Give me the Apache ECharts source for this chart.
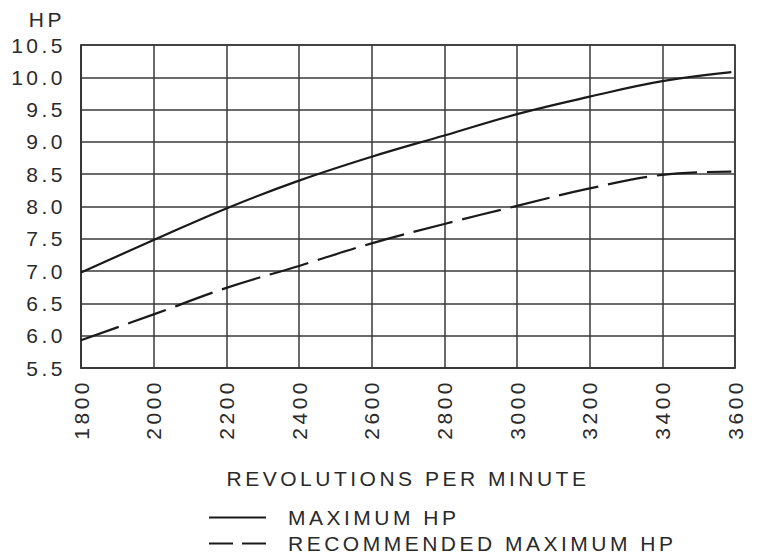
<!DOCTYPE html>
<html>
<head>
<meta charset="utf-8">
<script src="https://cdn.jsdelivr.net/npm/echarts@6/dist/echarts.min.js"></script>
<style>
html,body{margin:0;padding:0;background:#fff;}
#chart{width:766px;height:557px;}
#chart text{letter-spacing:3.5px;}
</style>
</head>
<body>
<div id="chart"></div>
<script>
const rpm = [1800, 2000, 2200, 2400, 2600, 2800, 3000, 3200, 3400, 3590];
const maxHP = [6.98, 7.48, 7.97, 8.40, 8.77, 9.10, 9.43, 9.70, 9.94, 10.08];
const recHP = [5.93, 6.33, 6.74, 7.08, 7.43, 7.73, 8.01, 8.28, 8.49, 8.54];
const seriesNames = ['MAXIMUM HP', 'RECOMMENDED MAXIMUM HP'];
const xTitle = 'REVOLUTIONS PER MINUTE';
const yTitle = 'HP';

const FONT = 'Liberation Sans';
const TXT = '#2a2a2a';
const LINE = '#1a1a1a';
const chart = echarts.init(document.getElementById('chart'), null, {renderer: 'svg'});
chart.setOption({
  animation: false,
  backgroundColor: '#fff',
  grid: {left: 81, right: 31, top: 45, bottom: 189, show: true, borderColor: '#333', borderWidth: 1.5, backgroundColor: 'transparent'},
  xAxis: {
    type: 'value', min: 1800, max: 3600, interval: 200,
    name: xTitle, nameLocation: 'middle', nameGap: 100,
    nameTextStyle: {fontFamily: FONT, fontSize: 21, color: TXT},
    axisLine: {show: true, lineStyle: {color: '#333', width: 1.5}},
    axisTick: {show: false},
    splitLine: {show: true, lineStyle: {color: '#3a3a3a', width: 1.5}},
    axisLabel: {rotate: 90, margin: 11, fontFamily: FONT, fontSize: 21, color: TXT, formatter: v => String(v)}
  },
  yAxis: {
    type: 'value', min: 5.5, max: 10.5, interval: 0.5,
    name: yTitle, nameLocation: 'end', nameGap: 15,
    nameTextStyle: {fontFamily: FONT, fontSize: 21, color: TXT, align: 'right', padding: [0, 16, 0, 0]},
    axisLine: {show: true, lineStyle: {color: '#333', width: 1.5}},
    axisTick: {show: false},
    splitLine: {show: true, lineStyle: {color: '#3a3a3a', width: 1.5}},
    axisLabel: {margin: 15, fontFamily: FONT, fontSize: 21, color: TXT, formatter: v => v.toFixed(1)}
  },
  legend: [
    {
      left: 204, top: 502, itemWidth: 57, itemHeight: 2,
      textStyle: {fontFamily: FONT, fontSize: 21, color: TXT, padding: [0, 0, 0, 17]},
      data: [{name: seriesNames[0], icon: 'path://M0,0h57v2h-57z'}]
    },
    {
      left: 204, top: 528, itemWidth: 57, itemHeight: 2,
      textStyle: {fontFamily: FONT, fontSize: 21, color: TXT, padding: [0, 0, 0, 17]},
      data: [{name: seriesNames[1], icon: 'path://M0,0h24v2h-24z M33,0h24v2h-24z'}]
    }
  ],
  series: [
    {
      name: seriesNames[0], type: 'line', smooth: 0.4, symbol: 'none',
      data: rpm.map((r, i) => [r, maxHP[i]]),
      lineStyle: {color: LINE, width: 2.2}, itemStyle: {color: LINE}
    },
    {
      name: seriesNames[1], type: 'line', smooth: 0.4, symbol: 'none',
      data: rpm.map((r, i) => [r, recHP[i]]),
      lineStyle: {color: LINE, width: 2.2, type: [40, 10]}, itemStyle: {color: LINE}
    }
  ]
});
</script>
</body>
</html>
